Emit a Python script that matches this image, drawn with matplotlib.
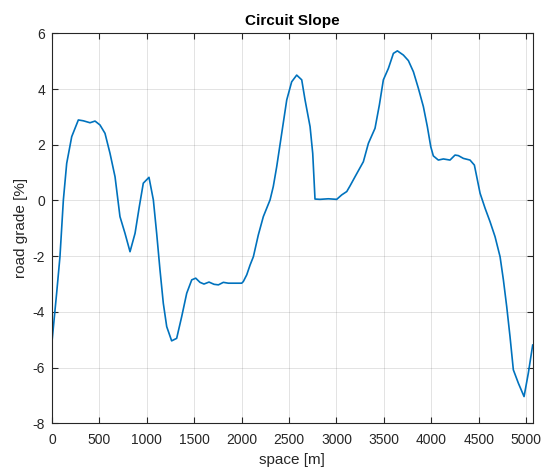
import matplotlib
matplotlib.use("Agg")
import matplotlib.pyplot as plt

plt.rcParams['font.family'] = ['Liberation Sans', 'DejaVu Sans']
plt.rcParams['axes.unicode_minus'] = False

# Track position along the circuit [m]
space_m = [0, 49, 84, 120, 155, 208, 278, 330, 401, 454, 506, 559, 612, 665, 717,
           770, 823, 876, 921, 963, 1023, 1069, 1104, 1139, 1174, 1210, 1262, 1315,
           1368, 1421, 1474, 1516, 1561, 1603, 1656, 1709, 1755, 1807, 1860, 1930,
           2001, 2018, 2054, 2089, 2124, 2176, 2229, 2300, 2334, 2370, 2423, 2476,
           2528, 2581, 2634, 2669, 2722, 2750, 2764, 2774, 2827, 2915, 3003, 3056,
           3109, 3143, 3196, 3284, 3337, 3407, 3453, 3495, 3548, 3601, 3643, 3706,
           3759, 3812, 3864, 3917, 3959, 3995, 4022, 4075, 4128, 4198, 4251, 4286,
           4339, 4409, 4455, 4480, 4515, 4568, 4620, 4673, 4726, 4761, 4796, 4831,
           4866, 4919, 4979, 5024, 5070]

# Road grade at each position [%]
grade_pct = [-5.07, -3.33, -2.02, 0.02, 1.33, 2.29, 2.89, 2.86, 2.79, 2.85, 2.71,
             2.41, 1.69, 0.85, -0.58, -1.18, -1.84, -1.18, -0.22, 0.62, 0.83, 0.02,
             -1.18, -2.49, -3.69, -4.53, -5.04, -4.95, -4.17, -3.33, -2.85, -2.79,
             -2.94, -3.00, -2.93, -3.01, -3.03, -2.94, -2.97, -2.97, -2.97, -2.91,
             -2.67, -2.32, -2.02, -1.24, -0.58, 0.02, 0.50, 1.21, 2.41, 3.61, 4.26,
             4.50, 4.33, 3.61, 2.65, 1.69, 0.74, 0.05, 0.04, 0.06, 0.04, 0.20, 0.32,
             0.52, 0.85, 1.39, 2.05, 2.59, 3.43, 4.33, 4.74, 5.28, 5.37, 5.22, 5.02,
             4.62, 4.03, 3.37, 2.65, 1.93, 1.60, 1.45, 1.49, 1.45, 1.63, 1.61, 1.51,
             1.45, 1.27, 0.85, 0.26, -0.28, -0.76, -1.30, -2.02, -2.85, -3.81,
             -4.89, -6.08, -6.56, -7.04, -6.20, -5.19]

x_ticks = [0, 500, 1000, 1500, 2000, 2500, 3000, 3500, 4000, 4500, 5000]
y_ticks = [-8, -6, -4, -2, 0, 2, 4, 6]

fig = plt.figure(figsize=(5.45, 4.68), dpi=100)
ax = fig.add_axes([0.0954, 0.0955, 0.882, 0.8333])

ax.plot(space_m, grade_pct, color='#0072BD', linewidth=1.2)

ax.set_xlim(0, 5070)
ax.set_ylim(-8, 6)
ax.set_xticks(x_ticks)
ax.set_yticks(y_ticks)
ax.grid(True, color='#262626', alpha=0.15, linewidth=0.6)
ax.set_axisbelow(True)

ax.tick_params(direction='in', top=True, right=True, length=4, width=0.8,
               labelsize=10, colors='#262626')
ax.tick_params(axis='x', pad=7)
ax.tick_params(axis='y', pad=5)
for sp in ax.spines.values():
    sp.set_color('#262626')
    sp.set_linewidth(0.8)

ax.set_title('Circuit Slope', fontsize=11, fontweight='bold', color='black', pad=6)
ax.set_xlabel('space [m]', fontsize=11, color='#262626', labelpad=4)
ax.set_ylabel('road grade [%]', fontsize=11, color='#262626', labelpad=3)

fig.savefig('out.png', dpi=100)
